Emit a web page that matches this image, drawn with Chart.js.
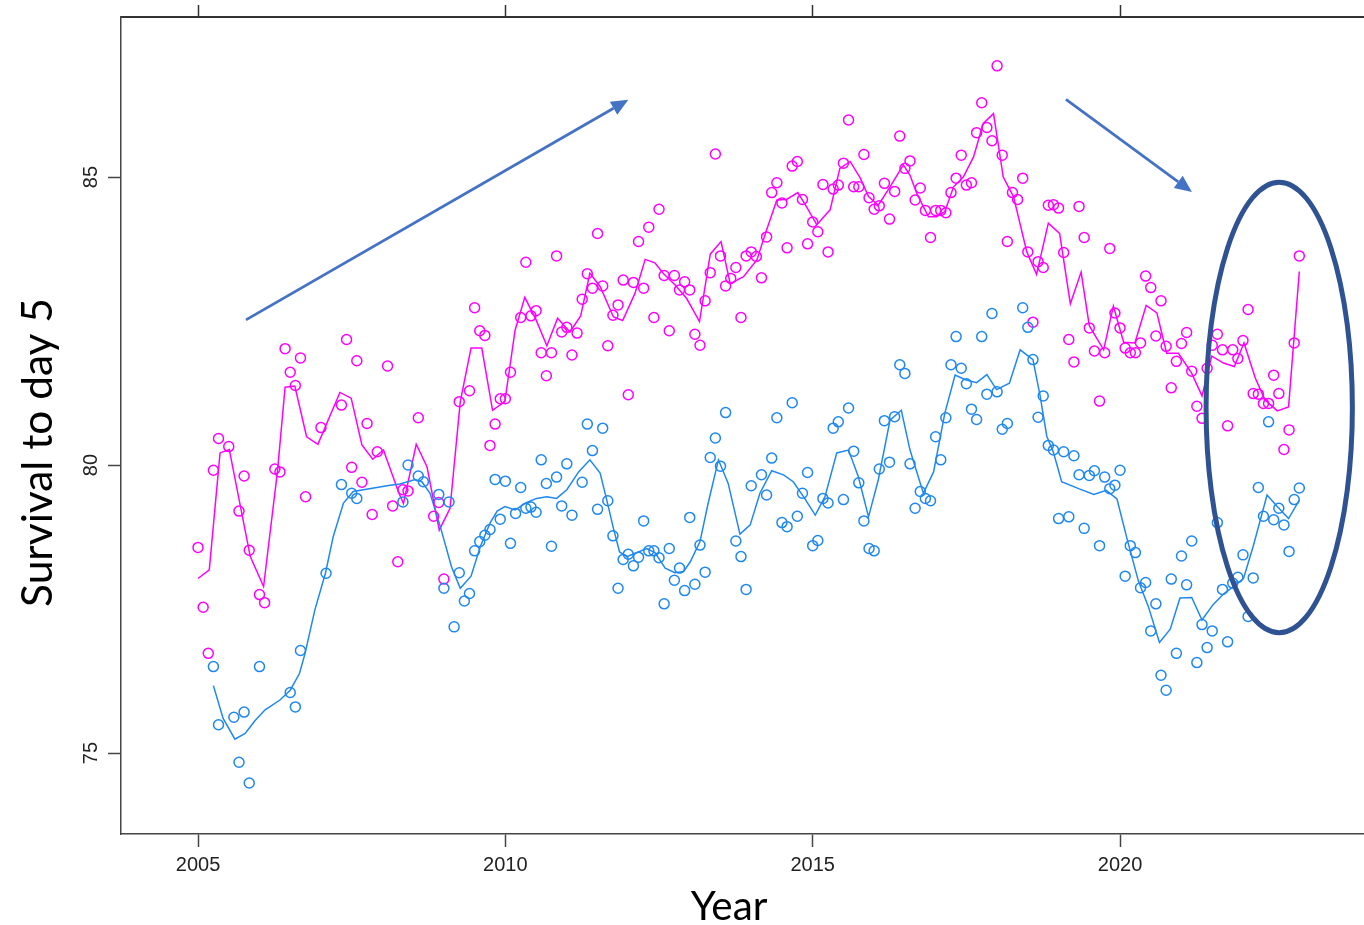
<!DOCTYPE html>
<html>
<head>
<meta charset="utf-8">
<script src="https://cdn.jsdelivr.net/npm/chart.js@4"></script>
<style>
  html, body { margin: 0; padding: 0; background: #fff; overflow: hidden; }
  #wrap { width: 1364px; height: 925px; position: relative; }
</style>
</head>
<body>
<div id="wrap"><canvas id="c"></canvas></div>
<script>
// Monthly survival to day 5 (%), index 0 = January 2005; null = no observation
const startYear = 2005;

const pinkValues = [
  78.57, 77.53, 76.73, 79.91, 80.46, null, 80.32, null, 79.20, 79.81,
  78.52, null, 77.75, 77.61, null, 79.93, 79.88, 82.02, 81.61, 81.38,
  81.86, 79.45, null, null, 80.65, null, null, null, 81.04, 82.18,
  79.96, 81.81, 79.70, 80.72, 79.14, 80.23, null, 81.72, 79.29, 78.32,
  79.57, 79.55, null, 80.82, null, null, 79.11, 79.35, 78.02, null,
  null, 81.10, null, 81.29, 82.73, 82.33, 82.25, 80.34, 80.71, 81.15,
  81.15, 81.61, null, 82.56, 83.52, 82.59, 82.68, 81.95, 81.55, 81.95,
  83.63, 82.31, 82.39, 81.91, 82.29, 82.88, 83.32, 83.07, 84.02, 83.11,
  82.07, 82.60, 82.78, 83.21, 81.22, 83.17, 83.88, 83.07, 84.13, 82.56,
  84.44, 83.29, 82.33, 83.29, 83.04, 83.18, 83.04, 82.27, 82.08, 82.85,
  83.34, 85.40, 83.63, 83.11, 83.24, 83.43, 82.56, 83.63, 83.70, 83.62,
  83.25, 83.96, 84.73, 84.90, 84.55, 83.77, 85.19, 85.27, 84.61, 83.84,
  84.22, 84.05, 84.87, 83.70, 84.79, 84.86, 85.24, 85.99, 84.83, 84.83,
  85.39, 84.64, 84.44, 84.50, 84.89, 84.27, 84.75, 85.71, 85.15, 85.28,
  84.60, 84.81, 84.42, 83.95, 84.42, 84.42, 84.38, 84.73, 84.98, 85.38,
  84.86, 84.90, 85.77, 86.29, 85.86, 85.63, 86.93, 85.38, 83.88, 84.73,
  84.61, 84.98, 83.70, 82.48, 83.53, 83.43, 84.51, 84.52, 84.46, 83.69,
  82.18, 81.79, 84.49, 83.95, 82.38, 81.98, 81.11, 81.95, 83.76, 82.64,
  82.38, 82.03, 81.95, 81.95, 82.12, 83.28, 83.08, 82.24, 82.85, 82.06,
  81.34, 81.80, 82.11, 82.30, 81.63, 81.02, 80.81, 81.68, 82.08, 82.27,
  82.00, 80.68, 82.00, 81.85, 82.16, 82.70, 81.24, 81.23, 81.07, 81.07,
  81.56, 81.24, 80.27, 80.61, 82.12, 83.63
];

const blueValues = [
  null, null, null, 76.50, 75.49, null, null, 75.62, 74.84, 75.71,
  74.48, null, 76.50, null, null, null, null, null, 76.05, 75.80,
  76.78, null, null, null, null, 78.12, null, null, 79.66, null,
  79.51, 79.42, null, null, null, null, null, null, null, null,
  79.36, 80.00, null, 79.81, 79.71, null, null, 79.49, 77.86, 79.36,
  77.19, 78.13, 77.64, 77.77, 78.51, 78.67, 78.78, 78.88, 79.75, 79.06,
  79.72, 78.64, 79.16, 79.61, 79.25, 79.27, 79.18, 80.09, 79.68, 78.59,
  79.79, 79.29, 80.02, 79.13, null, 79.70, 80.71, 80.25, 79.23, 80.64,
  79.38, 78.77, 77.86, 78.36, 78.45, 78.25, 78.40, 79.03, 78.51, 78.51,
  78.39, 77.59, 78.55, 78.00, 78.21, 77.82, 79.09, 77.93, 78.61, 78.14,
  80.13, 80.47, 79.98, 80.91, null, 78.68, 78.41, 77.84, 79.64, null,
  79.83, 79.48, 80.12, 80.82, 79.00, 78.93, 81.08, 79.11, 79.51, 79.87,
  78.60, 78.69, 79.42, 79.34, 80.64, 80.75, 79.40, 80.99, 80.24, 79.69,
  79.03, 78.55, 78.51, 79.93, 80.77, 80.05, 80.84, 81.74, 81.59, 80.02,
  79.25, 79.54, 79.42, 79.38, 80.49, 80.09, 80.82, 81.74, 82.23, 81.68,
  81.41, 80.97, 80.79, 82.23, 81.23, 82.63, 81.27, 80.62, 80.72, null,
  null, 82.73, 82.39, 81.83, 80.83, 81.20, 80.34, 80.26, 79.07, 80.23,
  79.10, 80.16, 79.83, 78.90, 79.82, 79.90, 78.60, 79.79, 79.59, 79.65,
  79.91, 78.07, 78.60, 78.48, 77.87, 77.96, 77.12, 77.59, 76.35, 76.09,
  78.02, 76.73, 78.42, 77.92, 78.68, 76.57, 77.23, 76.83, 77.12, 79.00,
  77.84, 76.93, 77.95, 78.05, 78.44, 77.37, 78.04, 79.61, 79.11, 80.75,
  79.05, 79.25, 78.96, 78.50, 79.40, 79.60
];

// Smoothed trend lines: month offset from January 2005 and value
const pinkTrendMonths = [
  0, 2.2, 4.3, 6.1, 10.2, 12.8, 15.5, 17, 18.9, 21.2,
  23.4, 27.7, 29.9, 32, 34.1, 36.2, 39.1, 40.1, 42.6, 44.7,
  47.1, 49.2, 51.2, 53.3, 55.4, 57.5, 59.9, 61.9, 63.8, 66,
  68.1, 70.2, 72.6, 74.7, 76.5, 78.5, 81.1, 82.9, 85.3, 87.3,
  89.2, 90.8, 93.1, 95.4, 97.9, 100, 102.1, 103.9, 106.5, 109.1,
  111, 113, 114.9, 117.1, 118.8, 120.8, 123.4, 125.3, 127.3, 129.3,
  130.9, 132.8, 135.1, 137.7, 139, 140.3, 142.6, 144.2, 145.8, 147.5,
  149.4, 151.4, 153.3, 155.3, 157.2, 159.2, 161.8, 163.7, 166, 168.2,
  170.3, 172.4, 174, 176.8, 178.7, 180.7, 182.9, 185.1, 187.2, 189.1,
  191.4, 194, 196, 197.9, 200.2, 202.3, 204.2, 206.4, 208.3, 210.7,
  212.9, 215
];
const pinkTrendValues = [
  78.03, 78.18, 80.21, 80.27, 78.41, 77.89, 79.88, 81.35, 81.37, 80.49,
  80.36, 81.26, 81.16, 80.35, 80.10, 80.26, 79.54, 79.33, 80.36, 79.97,
  78.87, 79.25, 81.10, 82.03, 82.03, 80.95, 81.10, 82.34, 82.91, 82.52,
  82.07, 82.55, 82.31, 82.59, 83.33, 83.10, 82.57, 82.51, 82.98, 83.57,
  83.51, 83.33, 83.13, 82.89, 82.49, 83.66, 83.88, 83.15, 83.27, 83.56,
  84.08, 84.60, 84.61, 84.73, 84.48, 84.17, 84.43, 85.15, 85.27, 84.98,
  84.66, 84.51, 84.83, 85.21, 85.03, 84.72, 84.31, 84.31, 84.40, 84.83,
  85.00, 85.35, 85.93, 86.10, 85.00, 84.66, 83.70, 83.31, 84.20, 84.02,
  82.80, 83.35, 82.42, 82.00, 82.76, 82.13, 82.12, 82.77, 82.64, 81.94,
  81.94, 81.59, 81.20, 81.89, 81.77, 81.71, 82.12, 81.51, 81.13, 80.94,
  81.01, 83.36
];

const blueTrendMonths = [
  3, 4.9, 7.2, 9.2, 11.1, 13.1, 16, 18, 19.8, 20.9,
  22.8, 24.9, 26.4, 28.4, 30.3, 37.5, 39.4, 42.4, 43.7, 45.3,
  47.3, 49.5, 51.2, 53.3, 55.1, 57, 58.4, 59.9, 61.9, 64.2,
  66.1, 68.1, 70, 72, 74.3, 76.5, 78.5, 79.8, 81.1, 82.3,
  83.7, 85.7, 87.6, 89.2, 91.2, 93.1, 94.8, 96.1, 98, 99.6,
  101.6, 103.5, 105.8, 107.8, 109.7, 112, 114.3, 116.2, 118.2, 120.5,
  122.4, 124.7, 127, 128.9, 130.9, 132.8, 135.1, 137.3, 139, 141.6,
  143.6, 145.8, 147.8, 149.8, 152, 154, 155.9, 158.4, 160.5, 163,
  164.4, 165.7, 167, 168.6, 171.9, 174.9, 177.3, 179.4, 181.4, 183.6,
  185.5, 187.7, 189.8, 191.7, 194, 196, 198.2, 200.2, 202.1, 204.1,
  206, 208.7, 210.6, 212.9, 215
];
const blueTrendValues = [
  76.17, 75.60, 75.24, 75.34, 75.56, 75.75, 75.92, 76.09, 76.38, 76.73,
  77.48, 78.13, 78.76, 79.34, 79.54, 79.65, 79.67, 79.75, 79.71, 79.51,
  78.93, 78.23, 77.86, 78.07, 78.58, 78.99, 79.20, 79.28, 79.22, 79.35,
  79.42, 79.45, 79.42, 79.57, 79.88, 80.09, 79.86, 79.39, 78.90, 78.49,
  78.41, 78.48, 78.55, 78.48, 78.21, 78.13, 78.15, 78.32, 78.67, 79.34,
  80.09, 79.68, 78.80, 78.96, 79.51, 79.90, 79.83, 79.71, 79.45, 79.13,
  79.45, 80.21, 80.26, 79.80, 79.10, 79.74, 80.78, 80.95, 80.26, 79.51,
  79.88, 80.90, 81.56, 81.48, 81.43, 81.57, 81.31, 81.42, 82.00, 81.83,
  81.20, 80.50, 80.22, 79.71, 79.59, 79.49, 79.56, 79.41, 78.71, 77.98,
  77.55, 76.92, 77.15, 77.69, 77.70, 77.31, 77.58, 77.76, 77.89, 78.03,
  78.59, 79.48, 79.29, 79.07, 79.39
];

const xTicks = [2005, 2010, 2015, 2020];
const yTicks = [75, 80, 85];
const xTitle = 'Year';
const yTitle = 'Survival to day 5';

// Trend annotations in data units: rising arrow, falling arrow, recent-period ellipse
const arrows = [
  { from: [2005.78, 82.52], to: [2012.0, 86.34] },
  { from: [2019.12, 86.35], to: [2021.17, 84.74] }
];
const ellipseCentre = [2022.59, 81.0];
const ellipseRadii = [1.19, 3.91];

const PINK = '#ff00ff';
const BLUE = '#1e88f0';

const toYear = m => startYear + m / 12;
const monthlyPoints = vals => vals
  .map((v, i) => (v === null ? null : { x: toYear(i), y: v }))
  .filter(p => p !== null);
const trendPoints = (months, vals) => months.map((m, i) => ({ x: toYear(m), y: vals[i] }));

const pointStyle = color => ({
  showLine: false,
  pointRadius: 5,
  pointHoverRadius: 5,
  pointBorderWidth: 1.5,
  pointBorderColor: color,
  pointBackgroundColor: 'rgba(0,0,0,0)',
  borderColor: color,
  backgroundColor: 'rgba(0,0,0,0)'
});
const lineStyle = color => ({
  showLine: true,
  pointRadius: 0,
  borderColor: color,
  borderWidth: 1.5,
  tension: 0,
  fill: false
});

const fitFont = (ctx, text, family, targetWidth) => {
  ctx.font = `100px ${family}`;
  const w = ctx.measureText(text).width;
  return 100 * targetWidth / w;
};

const decorations = {
  id: 'decorations',
  afterDatasetsDraw(chart) {
    const { ctx, scales: { x, y } } = chart;
    ctx.save();
    // arrows
    ctx.strokeStyle = '#4472c4';
    ctx.fillStyle = '#4472c4';
    ctx.lineWidth = 2.8;
    arrows.forEach(a => {
      const x1 = x.getPixelForValue(a.from[0]), y1 = y.getPixelForValue(a.from[1]);
      const x2 = x.getPixelForValue(a.to[0]), y2 = y.getPixelForValue(a.to[1]);
      const ang = Math.atan2(y2 - y1, x2 - x1);
      const head = 17, half = 7.5;
      const bx = x2 - head * Math.cos(ang), by = y2 - head * Math.sin(ang);
      ctx.beginPath();
      ctx.moveTo(x1, y1);
      ctx.lineTo(bx, by);
      ctx.stroke();
      ctx.beginPath();
      ctx.moveTo(x2, y2);
      ctx.lineTo(bx + half * Math.sin(ang), by - half * Math.cos(ang));
      ctx.lineTo(bx - half * Math.sin(ang), by + half * Math.cos(ang));
      ctx.closePath();
      ctx.fill();
    });
    // ellipse
    const cx = x.getPixelForValue(ellipseCentre[0]);
    const cy = y.getPixelForValue(ellipseCentre[1]);
    const rx = Math.abs(x.getPixelForValue(ellipseCentre[0] + ellipseRadii[0]) - cx);
    const ry = Math.abs(y.getPixelForValue(ellipseCentre[1] + ellipseRadii[1]) - cy);
    ctx.strokeStyle = '#2f5292';
    ctx.lineWidth = 5;
    ctx.beginPath();
    ctx.ellipse(cx, cy, rx, ry, 0, 0, Math.PI * 2);
    ctx.stroke();
    ctx.restore();
  },
  afterDraw(chart) {
    const { ctx, scales: { y } } = chart;
    ctx.save();
    // rotated y tick labels
    ctx.fillStyle = '#222';
    ctx.font = '20px "Liberation Sans", Arial, sans-serif';
    ctx.textAlign = 'center';
    ctx.textBaseline = 'middle';
    yTicks.forEach(v => {
      ctx.save();
      ctx.translate(90, y.getPixelForValue(v));
      ctx.rotate(-Math.PI / 2);
      ctx.fillText(String(v), 0, 1);
      ctx.restore();
    });
    // axis titles
    const fam = 'Lato, "Open Sans", sans-serif';
    ctx.fillStyle = '#000';
    ctx.textAlign = 'center';
    ctx.textBaseline = 'alphabetic';
    const ySize = fitFont(ctx, yTitle, fam, 309);
    ctx.font = `${ySize}px ${fam}`;
    ctx.save();
    ctx.translate(52, 452.5);
    ctx.rotate(-Math.PI / 2);
    ctx.fillText(yTitle, 0, 0);
    ctx.restore();
    ctx.font = `${ySize * 0.95}px ${fam}`;
    ctx.fillText(xTitle, 729, 920);
    ctx.restore();
  }
};

const axisColor = '#444';

new Chart(document.getElementById('c'), {
  type: 'scatter',
  data: {
    datasets: [
      { label: 'blue', data: monthlyPoints(blueValues), ...pointStyle(BLUE) },
      { label: 'pink', data: monthlyPoints(pinkValues), ...pointStyle(PINK) },
      { label: 'blue trend', data: trendPoints(blueTrendMonths, blueTrendValues), ...lineStyle(BLUE) },
      { label: 'pink trend', data: trendPoints(pinkTrendMonths, pinkTrendValues), ...lineStyle(PINK) }
    ]
  },
  options: {
    responsive: true,
    maintainAspectRatio: false,
    animation: false,
    devicePixelRatio: 1,
    layout: { padding: 0, autoPadding: false },
    plugins: { legend: { display: false }, tooltip: { enabled: false } },
    scales: {
      x: {
        type: 'linear',
        position: 'bottom',
        min: 2003.747,
        max: 2023.969,
        afterBuildTicks: s => { s.ticks = xTicks.map(v => ({ value: v })); },
        afterFit: s => { s.height = 91; },
        ticks: {
          callback: v => String(v),
          color: '#222',
          font: { family: '"Liberation Sans", Arial, sans-serif', size: 20 },
          padding: 6,
          maxRotation: 0,
          autoSkip: false
        },
        grid: { drawOnChartArea: false, drawTicks: true, tickLength: 13, color: axisColor, tickWidth: 1.5 },
        border: { display: true, color: axisColor, width: 1.5 }
      },
      xTop: {
        type: 'linear',
        position: 'top',
        min: 2003.747,
        max: 2023.969,
        afterBuildTicks: s => { s.ticks = xTicks.map(v => ({ value: v })); },
        afterFit: s => { s.height = 17; },
        ticks: { display: false },
        grid: { drawOnChartArea: false, drawTicks: true, tickLength: 12, color: '#333', tickWidth: 1.5 },
        border: { display: true, color: '#333', width: 2 }
      },
      y: {
        type: 'linear',
        position: 'left',
        min: 73.594,
        max: 87.778,
        afterBuildTicks: s => { s.ticks = yTicks.map(v => ({ value: v })); },
        afterFit: s => { s.width = 121; },
        ticks: { display: false },
        grid: { drawOnChartArea: false, drawTicks: true, tickLength: 13, color: axisColor, tickWidth: 1.5 },
        border: { display: true, color: axisColor, width: 1.5 }
      }
    }
  },
  plugins: [decorations]
});
</script>
</body>
</html>
